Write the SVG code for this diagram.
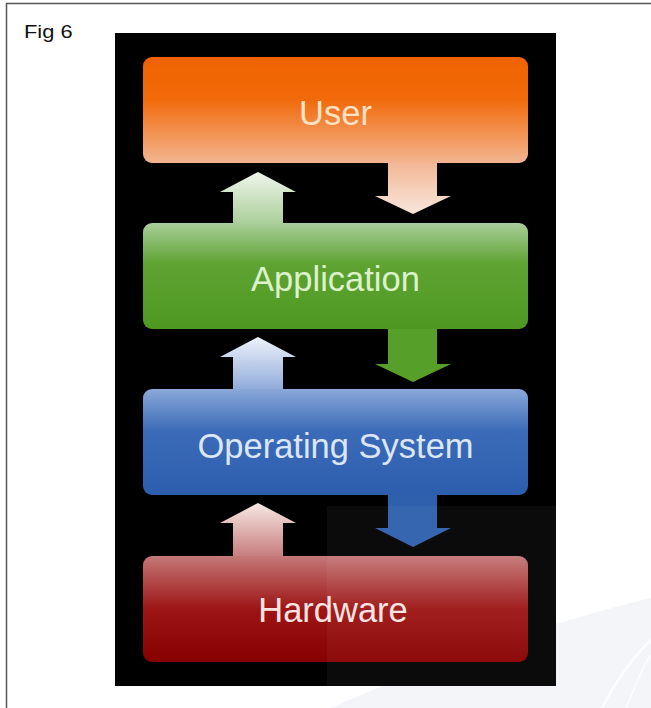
<svg xmlns="http://www.w3.org/2000/svg" width="651" height="708" viewBox="0 0 651 708">
  <style>
    .label { font-family: "Liberation Sans", Arial, sans-serif; font-size: 34.5px; text-anchor: middle; }
    .caption { font-family: "Liberation Sans", Arial, sans-serif; font-size: 19px; fill: #111; }
    .frame { fill: none; stroke: #555; stroke-width: 1.5; }
  </style>
  <defs>
    <!-- layer fills: bright band at the top, glossy fade -->
    <linearGradient id="gUser" x1="0" y1="0" x2="0" y2="1">
      <stop offset="0" stop-color="#ef6200"/>
      <stop offset="0.4" stop-color="#f16a0a"/>
      <stop offset="1" stop-color="#f3b591"/>
    </linearGradient>
    <linearGradient id="gApp" x1="0" y1="0" x2="0" y2="1">
      <stop offset="0" stop-color="#a9cf9a"/>
      <stop offset="0.38" stop-color="#5fa333"/>
      <stop offset="1" stop-color="#4e9922"/>
    </linearGradient>
    <linearGradient id="gOS" x1="0" y1="0" x2="0" y2="1">
      <stop offset="0" stop-color="#8ba8d9"/>
      <stop offset="0.4" stop-color="#3b6bb8"/>
      <stop offset="1" stop-color="#2d5eae"/>
    </linearGradient>
    <linearGradient id="gHW" x1="0" y1="0" x2="0" y2="1">
      <stop offset="0" stop-color="#c57878"/>
      <stop offset="0.5" stop-color="#9d1515"/>
      <stop offset="1" stop-color="#870000"/>
    </linearGradient>
    <!-- arrow fills -->
    <linearGradient id="aUp1" gradientUnits="userSpaceOnUse" x1="0" y1="172" x2="0" y2="226">
      <stop offset="0" stop-color="#f0f5ec"/>
      <stop offset="1" stop-color="#a6cd96"/>
    </linearGradient>
    <linearGradient id="aDown1" gradientUnits="userSpaceOnUse" x1="0" y1="160" x2="0" y2="214">
      <stop offset="0" stop-color="#f3b592"/>
      <stop offset="1" stop-color="#f8e6dc"/>
    </linearGradient>
    <linearGradient id="aUp2" gradientUnits="userSpaceOnUse" x1="0" y1="337" x2="0" y2="392">
      <stop offset="0" stop-color="#eef2fa"/>
      <stop offset="1" stop-color="#8ba8d9"/>
    </linearGradient>
    <linearGradient id="aUp3" gradientUnits="userSpaceOnUse" x1="0" y1="503" x2="0" y2="559">
      <stop offset="0" stop-color="#f6e8e4"/>
      <stop offset="1" stop-color="#c57878"/>
    </linearGradient>
  </defs>

  <!-- page frame and caption -->
  <rect width="651" height="708" fill="#ffffff"/>
  <path class="frame" d="M6.5 708 V3.5 H651"/>
  <text class="caption" transform="translate(24 38) scale(1.15 1)">Fig 6</text>

  <!-- faint swoosh emblem in the lower right corner -->
  <g id="emblem">
    <path d="M330 708 C420 670 520 630 651 598 V708 Z" fill="#f4f5f9"/>
    <path d="M602 708 C616 680 635 655 651 640" fill="none" stroke="#ffffff" stroke-width="2.5" stroke-opacity="0.8"/>
    <path d="M626 708 C636 685 643 665 651 655" fill="none" stroke="#ffffff" stroke-width="1.5" stroke-opacity="0.8"/>
  </g>

  <!-- dark panel -->
  <rect id="panel" x="115" y="33" width="441" height="653" fill="#000000"/>

  <!-- connectors -->
  <g id="connectors">
    <!-- Application to User -->
    <path d="M233 226 V192 H220 L258 172 L296 192 H283 V226 Z" fill="url(#aUp1)"/>
    <!-- User to Application -->
    <path d="M388 160 V196 H375 L413 214 L451 196 H437 V160 Z" fill="url(#aDown1)"/>
    <!-- Operating System to Application -->
    <path d="M233 392 V357 H220 L258 337 L296 357 H283 V392 Z" fill="url(#aUp2)"/>
    <!-- Application to Operating System -->
    <path d="M388 326 V364 H375 L413 382 L451 364 H437 V326 Z" fill="#56a02a"/>
    <!-- Hardware to Operating System -->
    <path d="M233 559 V523 H220 L258 503 L296 523 H283 V559 Z" fill="url(#aUp3)"/>
    <!-- Operating System to Hardware -->
    <path d="M388 492 V528 H375 L413 547 L451 528 H437 V492 Z" fill="#2f60ae"/>
  </g>

  <!-- layers -->
  <g id="user">
    <rect x="143" y="57" width="385" height="106" rx="9" fill="url(#gUser)"/>
    <text class="label" x="335.5" y="125" fill="#fde2c4">User</text>
  </g>
  <g id="application">
    <rect x="143" y="223" width="385" height="106" rx="9" fill="url(#gApp)"/>
    <text class="label" x="335.5" y="291" fill="#dcf2cc">Application</text>
  </g>
  <g id="operating-system">
    <rect x="143" y="389" width="385" height="106" rx="9" fill="url(#gOS)"/>
    <text class="label" x="335.5" y="458" fill="#dce6f6">Operating System</text>
  </g>
  <g id="hardware">
    <rect x="143" y="556" width="385" height="106" rx="9" fill="url(#gHW)"/>
    <text class="label" x="333" y="622" fill="#fae4e2">Hardware</text>
  </g>

  <!-- slight light wash over the lower right of the panel -->
  <rect x="327" y="506" width="229" height="180" fill="#ffffff" fill-opacity="0.045"/>
</svg>
